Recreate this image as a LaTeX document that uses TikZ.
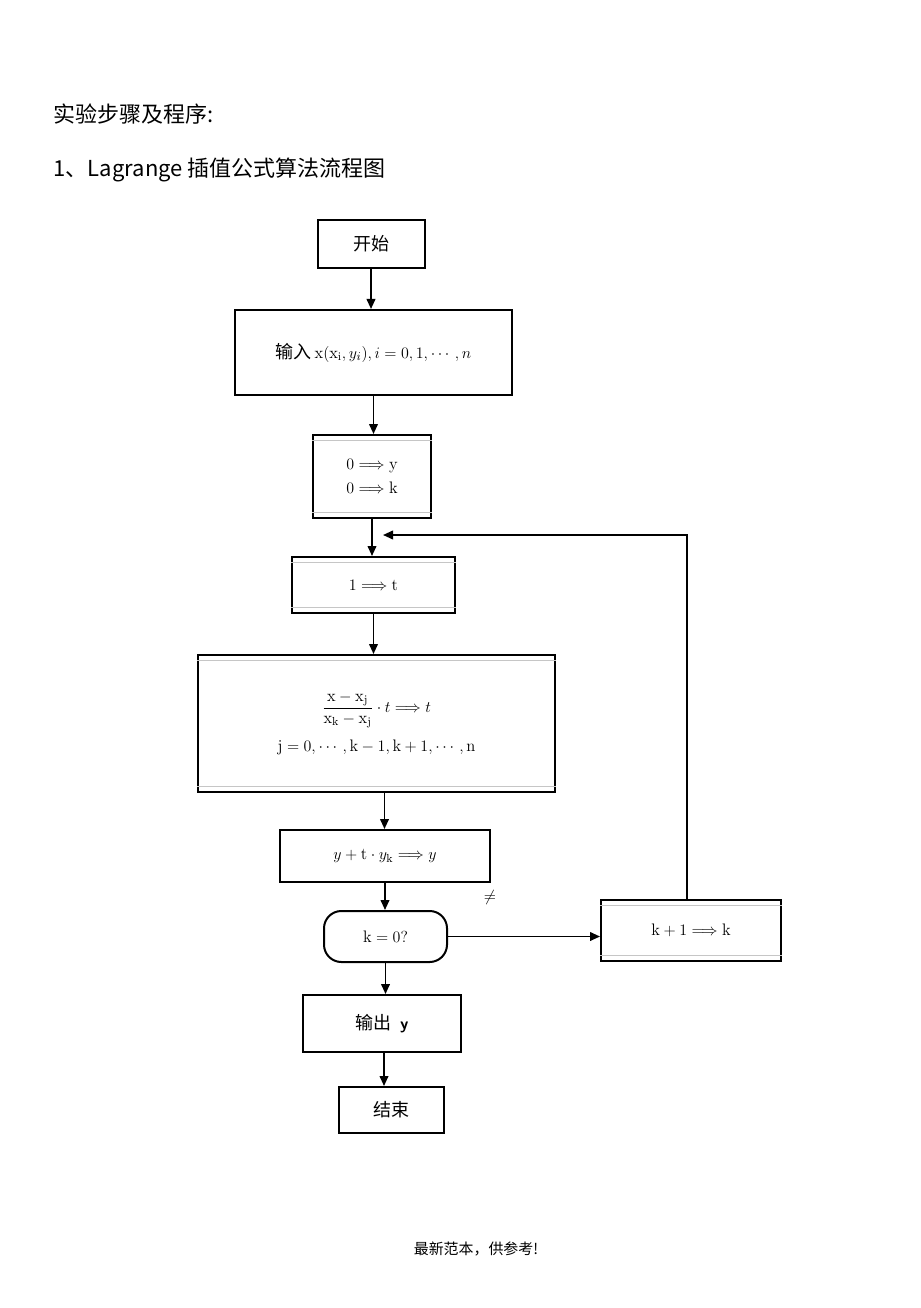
\documentclass[tikz,border=0pt]{standalone}
\usepackage{amsmath}
\usepackage{fontspec}
\newfontfamily\cjk{Noto Sans CJK SC}
\usetikzlibrary{arrows.meta}
\begin{document}
\begin{tikzpicture}[x=0.75pt,y=-0.75pt,
  box/.style={draw,line width=1.5pt,inner sep=0pt,align=center,font=\fontsize{12.5}{15}\selectfont},
  cjkbox/.style={box,font=\cjk\fontsize{13.5}{16}\selectfont},
  arr/.style={line width=1.3pt,-{Triangle[length=7.5pt,width=6.5pt]}},
  inner/.style={draw=gray!45,line width=0.5pt}]
\useasboundingbox (0,0) rectangle (920,1308);
% header
\node[anchor=west,font=\cjk\fontsize{16.5}{19}\selectfont] (h1) at (49,114) {实验步骤及程序:};
\node[anchor=west,font=\cjk\fontsize{16.5}{19}\selectfont] (h2) at (49,170) {1、Lagrange 插值公式算法流程图};
% nodes
\node[cjkbox,minimum width=80.25pt,minimum height=36pt] (start) at (371,244) {开始};
\node[box,minimum width=207.75pt,minimum height=63.75pt] (inp) at (373.5,352.5) {{\cjk\fontsize{13.5}{16}\selectfont 输入}\,$\mathrm{x}(\mathrm{x_i},y_i),i=0,1,\cdots,n$};
\node[box,minimum width=88.5pt,minimum height=62.25pt] (init) at (372,476.5) {$0\Longrightarrow\mathrm{y}$\\[3pt]$0\Longrightarrow\mathrm{k}$};
\node[box,minimum width=122.25pt,minimum height=42pt] (t1) at (373.5,585) {$1\Longrightarrow\mathrm{t}$};
\node[box,minimum width=267.75pt,minimum height=102.75pt] (big) at (376.5,723.5) {$\dfrac{\mathrm{x}-\mathrm{x_j}}{\mathrm{x_k}-\mathrm{x_j}}\cdot t\Longrightarrow t$\\[8pt]$\mathrm{j}=0,\cdots,\mathrm{k}-1,\mathrm{k}+1,\cdots,\mathrm{n}$};
\node[box,minimum width=157.5pt,minimum height=39pt] (ybox) at (385,856) {$y+\mathrm{t}\cdot y_{\mathrm{k}}\Longrightarrow y$};
\node[box,rounded corners=13pt,minimum width=92.25pt,minimum height=38.25pt] (dec) at (385.5,936.5) {$\mathrm{k}=0?$};
\node[box,minimum width=135pt,minimum height=45.75pt] (kp) at (691,930.5) {$\mathrm{k}+1\Longrightarrow\mathrm{k}$};
\node[box,minimum width=118.5pt,minimum height=42.75pt] (out) at (382,1023.5) {{\cjk\fontsize{13.5}{16}\selectfont 输出}\enspace\textsf{\bfseries y}};
\node[cjkbox,minimum width=78.75pt,minimum height=34.5pt] (end) at (391.5,1110) {结束};
\node[font=\fontsize{13}{15}\selectfont] (ne) at (490,897) {$\neq$};
\node[font=\cjk\fontsize{11.2}{13}\selectfont] (foot) at (476,1249) {最新范本，供参考!};
% faint inner lines
\foreach \n in {init,t1,big,kp}{
  \draw[inner] ([yshift=-5pt]\n.north west) -- ([yshift=-5pt]\n.north east);
  \draw[inner] ([yshift=5pt]\n.south west) -- ([yshift=5pt]\n.south east);
}
% connectors
\draw[arr] (start.south) -- (start.south |- inp.north);
\draw[arr] (inp.south) -- (inp.south |- init.north);
\draw[arr] (init.south) -- (init.south |- t1.north);
\draw[arr] (t1.south) -- (t1.south |- big.north);
\draw[arr] ([xshift=6pt]big.south) -- ([xshift=6pt]big.south |- ybox.north);
\draw[arr] (ybox.south) -- (ybox.south |- dec.north);
\draw[arr] (dec.south) -- (dec.south |- out.north);
\draw[arr] ([xshift=1.5pt]out.south) -- ([xshift=1.5pt]out.south |- end.north);
\draw[arr] (dec.east) -- (kp.west |- dec.east);
\coordinate (loopin) at (383,535);
\draw[arr] ([xshift=-3pt]kp.north) |- (loopin);
\end{tikzpicture}
\end{document}
